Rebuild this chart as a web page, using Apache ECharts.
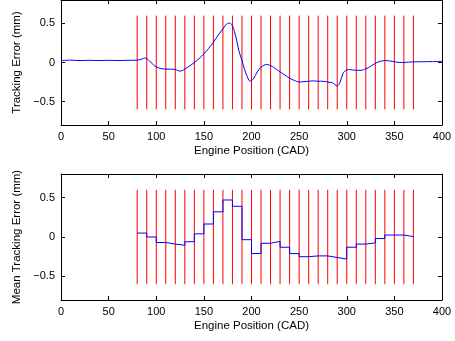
<!DOCTYPE html>
<html>
<head>
<meta charset="utf-8">
<script src="https://cdn.jsdelivr.net/npm/echarts@6/dist/echarts.min.js"></script>
<style>
  html, body { margin: 0; padding: 0; background: #fff; }
  #chart { width: 455px; height: 341px; }
</style>
</head>
<body>
<div id="chart"></div>
<script>
// Instantaneous tracking error along the engine cycle (CAD, mm)
const errorPositions = [0, 10, 20, 30, 40, 50, 60, 70, 80, 85, 88, 90, 93, 97, 100, 104, 110, 115, 120, 125, 128, 130, 135, 140, 145, 150, 155, 160, 165, 170, 173, 176.5, 178, 180, 182, 184.5, 187, 190, 192.5, 195, 198.5, 202, 206, 210, 213, 216, 219, 222, 226, 230, 235, 240, 245, 250, 255, 260, 265, 270, 275, 280, 285, 290, 293, 296, 299, 302, 306, 310, 315, 320, 325, 330, 335, 340, 345, 350, 355, 360, 365, 370, 380, 390, 400];
const errorValues = [0.025, 0.03, 0.025, 0.028, 0.025, 0.028, 0.025, 0.028, 0.03, 0.045, 0.058, 0.05, 0.02, -0.03, -0.055, -0.075, -0.085, -0.085, -0.09, -0.11, -0.1, -0.085, -0.045, 0.0, 0.05, 0.11, 0.18, 0.26, 0.35, 0.43, 0.48, 0.505, 0.5, 0.47, 0.4, 0.28, 0.14, 0.025, -0.08, -0.165, -0.24, -0.21, -0.12, -0.06, -0.035, -0.025, -0.035, -0.05, -0.085, -0.12, -0.16, -0.2, -0.23, -0.25, -0.245, -0.24, -0.235, -0.24, -0.24, -0.25, -0.26, -0.3, -0.25, -0.14, -0.1, -0.09, -0.095, -0.1, -0.1, -0.08, -0.05, -0.01, 0.015, 0.025, 0.02, 0.01, 0.0, 0.0, 0.005, 0.008, 0.01, 0.012, 0.015];

// Window boundaries (every 10 CAD from 80 to 370) and mean error per window
const windowEdges = [80, 90, 100, 110, 120, 130, 140, 150, 160, 170, 180, 190, 200, 210, 220, 230, 240, 250, 260, 270, 280, 290, 300, 310, 320, 330, 340, 350, 360, 370];
const windowMeans = [0.05, 0.0, -0.07, -0.09, -0.105, -0.06, 0.04, 0.165, 0.32, 0.47, 0.39, -0.034, -0.21, -0.08, -0.055, -0.13, -0.21, -0.25, -0.24, -0.24, -0.26, -0.28, -0.13, -0.09, -0.075, -0.02, 0.025, 0.025, 0.005];

// Axis ticks
const xTicks = [0, 50, 100, 150, 200, 250, 300, 350, 400];
const yTicks = [-0.5, 0, 0.5];
const yRange = [-0.8, 0.8];
const markerSpan = [-0.6, 0.6];

const FONT = 'Liberation Sans, Arial, Helvetica, sans-serif';
const BLUE = '#0000ff';
const RED = '#ff0000';

const fmtY = v => (v < 0 ? '\u2212' + Math.abs(v) : String(v));

const errorData = errorPositions.map((x, i) => [x, errorValues[i]]);
const stepData = [];
windowMeans.forEach((m, i) => {
  stepData.push([windowEdges[i], m]);
  stepData.push([windowEdges[i + 1], m]);
});

const grids = [
  { left: 61, right: 13, top: -1, height: 126 },
  { left: 61, right: 13, top: 174, height: 126 }
];

const lineStyleAxis = { color: '#000', width: 1 };

function bottomX(gridIndex) {
  return {
    type: 'value', gridIndex, min: 0, max: 400, position: 'bottom',
    name: 'Engine Position (CAD)', nameLocation: 'middle', nameGap: 20,
    nameTextStyle: { fontFamily: FONT, fontSize: 11.5, color: '#000' },
    axisLine: { show: true, onZero: false, lineStyle: lineStyleAxis },
    axisTick: { show: true, inside: true, length: 4, customValues: xTicks, lineStyle: lineStyleAxis },
    axisLabel: { show: true, customValues: xTicks, margin: 6, fontFamily: FONT, fontSize: 11, color: '#000' },
    splitLine: { show: false }
  };
}
function topX(gridIndex) {
  return {
    type: 'value', gridIndex, min: 0, max: 400, position: 'top',
    axisLine: { show: true, onZero: false, lineStyle: lineStyleAxis },
    axisTick: { show: true, inside: true, length: 4, customValues: xTicks, lineStyle: lineStyleAxis },
    axisLabel: { show: false },
    splitLine: { show: false }
  };
}
function leftY(gridIndex, name) {
  return {
    type: 'value', gridIndex, min: yRange[0], max: yRange[1], position: 'left',
    name, nameLocation: 'middle', nameGap: 29,
    nameTextStyle: { fontFamily: FONT, fontSize: 11.5, color: '#000' },
    axisLine: { show: true, onZero: false, lineStyle: lineStyleAxis },
    axisTick: { show: true, inside: true, length: 4, customValues: yTicks, lineStyle: lineStyleAxis },
    axisLabel: { show: true, customValues: yTicks, formatter: fmtY, margin: 6, fontFamily: FONT, fontSize: 11, color: '#000' },
    splitLine: { show: false }
  };
}
function rightY(gridIndex) {
  return {
    type: 'value', gridIndex, min: yRange[0], max: yRange[1], position: 'right',
    axisLine: { show: true, onZero: false, lineStyle: lineStyleAxis },
    axisTick: { show: true, inside: true, length: 4, customValues: yTicks, lineStyle: lineStyleAxis },
    axisLabel: { show: false },
    splitLine: { show: false }
  };
}

// Vertical red window markers drawn beneath the blue traces
function markerSeries(xAxisIndex, yAxisIndex) {
  return {
    type: 'custom', xAxisIndex, yAxisIndex, z: 1, silent: true,
    data: windowEdges.map(x => [x]),
    encode: { x: 0 },
    renderItem: (params, api) => {
      const x = api.value(0);
      const p0 = api.coord([x, markerSpan[0]]);
      const p1 = api.coord([x, markerSpan[1]]);
      return {
        type: 'line',
        shape: { x1: p0[0], y1: p0[1], x2: p1[0], y2: p1[1] },
        style: { stroke: RED, lineWidth: 1 }
      };
    }
  };
}

const chart = echarts.init(document.getElementById('chart'), null, { renderer: 'canvas' });
chart.setOption({
  animation: false,
  backgroundColor: '#fff',
  grid: grids,
  xAxis: [bottomX(0), topX(0), bottomX(1), topX(1)],
  yAxis: [leftY(0, 'Tracking Error (mm)'), rightY(0), leftY(1, 'Mean Tracking Error (mm)'), rightY(1)],
  series: [
    markerSeries(0, 0),
    {
      type: 'line', xAxisIndex: 0, yAxisIndex: 0, data: errorData, z: 10,
      showSymbol: false, smooth: 0.3, lineStyle: { color: BLUE, width: 1 }
    },
    markerSeries(2, 2),
    {
      type: 'line', xAxisIndex: 2, yAxisIndex: 2, data: stepData, z: 10,
      showSymbol: false, lineStyle: { color: BLUE, width: 1 }
    }
  ]
});
</script>
</body>
</html>
